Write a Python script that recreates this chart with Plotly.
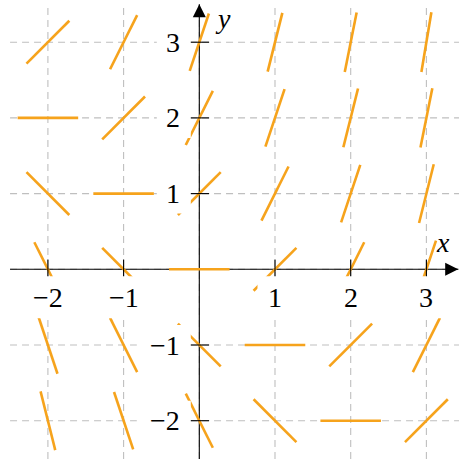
import math
import plotly.graph_objects as go

# Slope field dy/dx at integer lattice points
xs = [-2, -1, 0, 1, 2, 3]
ys = [-2, -1, 0, 1, 2, 3]
# slopes[i][j] is the slope at (xs[j], ys[i])
slopes = [
    [-4, -3, -2, -1, 0, 1],
    [-3, -2, -1, 0, 1, 2],
    [-2, -1, 0, 1, 2, 3],
    [-1, 0, 1, 2, 3, 4],
    [0, 1, 2, 3, 4, 5],
    [1, 2, 3, 4, 5, 6],
]
x_ticks = [-2, -1, 1, 2, 3]
y_ticks = [-2, -1, 1, 2, 3]
x_tick_labels = ["\u22122", "\u22121", "1", "2", "3"]
y_tick_labels = ["\u22122", "\u22121", "1", "2", "3"]

W = H = 459
PX_PER_UNIT = 75.7
ORIGIN_PX = (199.3, 269.3)
X_RANGE = [-ORIGIN_PX[0] / PX_PER_UNIT, (W - ORIGIN_PX[0]) / PX_PER_UNIT]
Y_RANGE = [-(H - ORIGIN_PX[1]) / PX_PER_UNIT, ORIGIN_PX[1] / PX_PER_UNIT]
XMIN, XMAX = -2.5, 3.42
YMAX = 3.5
HALF_LEN = 0.4

ORANGE = "#F6A31C"
GRID = "#bfbfbf"
FONT = "Liberation Serif"
FS = 28

fig = go.Figure()

# direction segments, centred on each lattice point, all the same length
sx, sy = [], []
for i, yv in enumerate(ys):
    for j, xv in enumerate(xs):
        m = slopes[i][j]
        dx = HALF_LEN / math.sqrt(1 + m * m)
        dy = m * dx
        sx += [xv - dx, xv + dx, None]
        sy += [yv - dy, yv + dy, None]

fig.add_trace(go.Scatter(x=sx, y=sy, mode="lines",
                         line=dict(color=ORANGE, width=2.6),
                         hoverinfo="skip", showlegend=False))

# tick marks crossing the axes
fig.add_trace(go.Scatter(x=x_ticks, y=[0] * len(x_ticks), mode="markers",
                         marker=dict(symbol="line-ns", size=14,
                                     line=dict(color="black", width=1.1)),
                         hoverinfo="skip", showlegend=False))
fig.add_trace(go.Scatter(x=[0] * len(y_ticks), y=y_ticks, mode="markers",
                         marker=dict(symbol="line-ew", size=14,
                                     line=dict(color="black", width=1.1)),
                         hoverinfo="skip", showlegend=False))

shapes = []
# dashed grid
for xv in xs:
    shapes.append(dict(type="line", x0=xv, x1=xv, y0=Y_RANGE[0], y1=YMAX,
                       line=dict(color=GRID, width=1.1, dash="7px,5px"),
                       layer="below"))
for yv in ys:
    shapes.append(dict(type="line", x0=XMIN, x1=X_RANGE[1], y0=yv, y1=yv,
                       line=dict(color=GRID, width=1.1, dash="7px,5px"),
                       layer="below"))
# axis lines
shapes.append(dict(type="line", x0=XMIN, x1=XMAX, y0=0, y1=0,
                   line=dict(color="black", width=1.1), layer="below"))
shapes.append(dict(type="line", x0=0, x1=0, y0=Y_RANGE[0], y1=YMAX,
                   line=dict(color="black", width=1.1), layer="below"))
# arrow heads
shapes.append(dict(type="path", xref="x", yref="y",
                   xsizemode="pixel", ysizemode="pixel",
                   xanchor=XMAX, yanchor=0,
                   path="M0,0 L-13,6.5 L-13,-6.5 Z",
                   fillcolor="black", line=dict(width=0), layer="above"))
shapes.append(dict(type="path", xref="x", yref="y",
                   xsizemode="pixel", ysizemode="pixel",
                   xanchor=0, yanchor=YMAX,
                   path="M0,0 L-6.5,-13 L6.5,-13 Z",
                   fillcolor="black", line=dict(width=0), layer="above"))


def text_width(s):
    return sum(20 if ch == "\u2212" else 13 for ch in s)


# white label backgrounds
for t, lab in zip(x_ticks, x_tick_labels):
    hw = text_width(lab) / 2 + 11
    shapes.append(dict(type="rect", xref="x", yref="y",
                       xsizemode="pixel", ysizemode="pixel",
                       xanchor=t, yanchor=0, x0=-hw, x1=hw, y0=-49, y1=-7,
                       fillcolor="white", line=dict(width=0), layer="above"))
for t, lab in zip(y_ticks, y_tick_labels):
    w = text_width(lab) + 21
    shapes.append(dict(type="rect", xref="x", yref="y",
                       xsizemode="pixel", ysizemode="pixel",
                       xanchor=0, yanchor=t, x0=-8.5 - w, x1=-8.5, y0=-20, y1=20,
                       fillcolor="white", line=dict(width=0), layer="above"))

annotations = []
for t, lab in zip(x_ticks, x_tick_labels):
    annotations.append(dict(x=t, y=0, text=lab, showarrow=False,
                            xanchor="center", yanchor="middle", yshift=-28,
                            font=dict(family=FONT, size=FS, color="black")))
for t, lab in zip(y_ticks, y_tick_labels):
    annotations.append(dict(x=0, y=t, text=lab, showarrow=False,
                            xanchor="right", yanchor="middle", xshift=-17,
                            font=dict(family=FONT, size=FS, color="black")))
annotations.append(dict(x=3.22, y=0.36, text="<i>x</i>", showarrow=False,
                        xanchor="center", yanchor="middle",
                        font=dict(family=FONT, size=FS, color="black")))
annotations.append(dict(x=0.31, y=3.31, text="<i>y</i>", showarrow=False,
                        xanchor="center", yanchor="middle",
                        font=dict(family=FONT, size=FS, color="black")))

fig.update_layout(
    width=W, height=H,
    margin=dict(l=0, r=0, t=0, b=0),
    paper_bgcolor="white", plot_bgcolor="white",
    xaxis=dict(range=X_RANGE, visible=False, fixedrange=True),
    yaxis=dict(range=Y_RANGE, visible=False, fixedrange=True),
    shapes=shapes, annotations=annotations,
    showlegend=False,
)

fig.write_html("out.html")
